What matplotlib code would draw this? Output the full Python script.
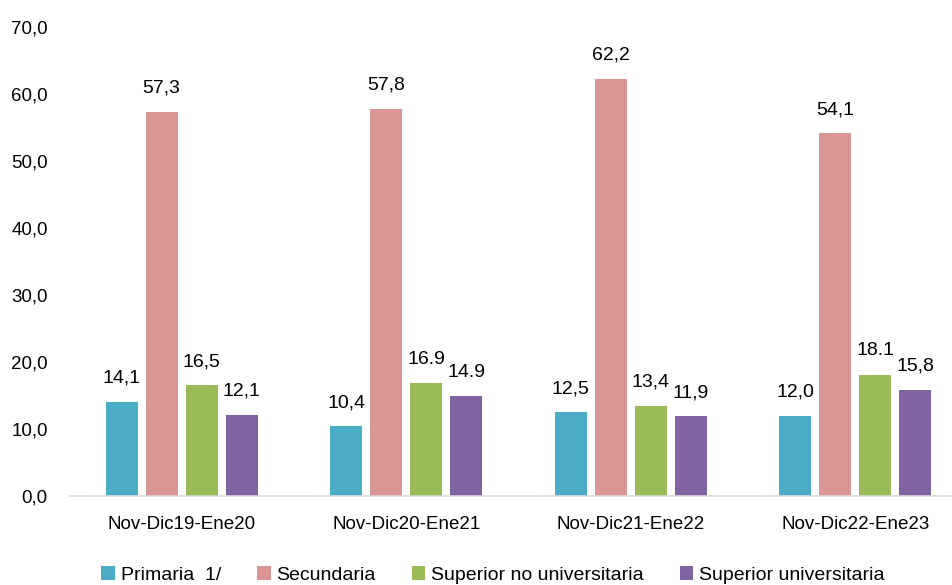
import matplotlib
matplotlib.use("Agg")
import matplotlib.pyplot as plt
import numpy as np
from matplotlib.patches import Patch

categories = ["Nov-Dic19-Ene20", "Nov-Dic20-Ene21", "Nov-Dic21-Ene22", "Nov-Dic22-Ene23"]
series_names = ["Primaria  1/", "Secundaria", "Superior no universitaria", "Superior universitaria"]
primaria = [14.1, 10.4, 12.5, 12.0]
secundaria = [57.3, 57.8, 62.2, 54.1]
sup_no_univ = [16.5, 16.9, 13.4, 18.1]
sup_univ = [12.1, 14.9, 11.9, 15.8]
labels = [
    ["14,1", "10,4", "12,5", "12,0"],
    ["57,3", "57,8", "62,2", "54,1"],
    ["16,5", "16.9", "13,4", "18.1"],
    ["12,1", "14.9", "11,9", "15,8"],
]
yticks = [0, 10, 20, 30, 40, 50, 60, 70]
ytick_labels = ["0,0", "10,0", "20,0", "30,0", "40,0", "50,0", "60,0", "70,0"]
colors = ["#4BACC6", "#D99694", "#9BBB59", "#8064A2"]

plt.rcParams['font.family'] = ['Liberation Sans', 'DejaVu Sans']
fig = plt.figure(figsize=(9.52, 5.85), dpi=100)
ax = fig.add_axes([0.0735, 0.152, 0.9265, 0.802])

data = [primaria, secundaria, sup_no_univ, sup_univ]
x = np.arange(len(categories))
w = 0.1425
pitch = 0.178
for i, vals in enumerate(data):
    pos = x + (i - 1.5) * pitch
    ax.bar(pos, vals, width=w, color=colors[i], zorder=2)
    for p, v, lab in zip(pos, vals, labels[i]):
        ax.annotate(lab, (p, v), xytext=(0, 11), textcoords="offset points",
                    ha="center", va="bottom", fontsize=14, color="#000000")

ax.set_xlim(-0.497, 3.43)
ax.set_ylim(0, 70)
ax.set_yticks(yticks)
ax.set_yticklabels(ytick_labels, fontsize=13.5)
ax.set_xticks(x)
ax.set_xticklabels(categories, fontsize=13.5)
ax.tick_params(axis="both", length=0)
ax.tick_params(axis="y", pad=16)
ax.tick_params(axis="x", pad=14)
for s in ["top", "right", "left"]:
    ax.spines[s].set_visible(False)
ax.spines["bottom"].set_color("#D9D9D9")
ax.spines["bottom"].set_linewidth(1.2)

handles = [Patch(facecolor=c, edgecolor="none") for c in colors]
fig.legend(handles, series_names, loc="lower left", bbox_to_anchor=(0.088, -0.028),
           ncol=4, frameon=False, fontsize=14, handlelength=0.7, handleheight=0.7,
           handletextpad=0.3, columnspacing=1.85)

fig.savefig("out.png", dpi=100)
